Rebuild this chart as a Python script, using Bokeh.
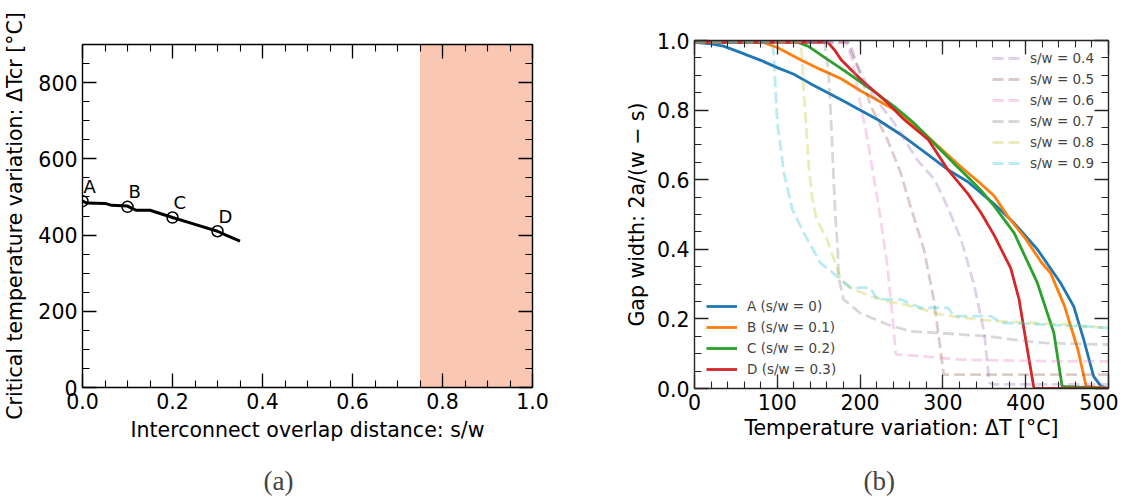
from bokeh.plotting import figure
from bokeh.models import (Range1d, LinearAxis, SingleIntervalTicker, BoxAnnotation,
                          Legend, LegendItem, Title, PrintfTickFormatter, CustomJSTickFormatter)
from bokeh.layouts import row
from bokeh.embed import file_html
from bokeh.resources import INLINE
from bokeh.core.properties import value

# ---------------- data: panel (a) ----------------
sw_curve = [0.0, 0.01, 0.05, 0.065, 0.1, 0.11, 0.12, 0.15, 0.2, 0.25, 0.3, 0.32, 0.35]
dT_curve = [489, 484, 483, 478, 476, 470, 465, 465, 446, 428, 410, 399, 384]
sw_points = [0.0, 0.1, 0.2, 0.3]
dT_points = [489, 474, 446, 410]
point_labels = ["A", "B", "C", "D"]
shade_from, shade_to = 0.75, 1.0

# ---------------- data: panel (b) ----------------
A_x = [0, 20, 35, 56, 80, 100, 120, 140, 161, 180, 197, 221, 249, 282, 306, 330, 362, 385, 414, 442, 458, 470, 482, 491, 500]
A_y = [0.995, 0.99, 0.984, 0.965, 0.943, 0.922, 0.903, 0.876, 0.85, 0.826, 0.804, 0.773, 0.73, 0.672, 0.629, 0.594, 0.53, 0.478, 0.4, 0.304, 0.236, 0.141, 0.035, 0.006, 0.0]
B_x = [0, 82, 100, 128, 152, 177, 201, 220, 241, 261, 280, 297, 318, 330, 345, 362, 378, 400, 419, 430, 447, 463, 473, 500]
B_y = [0.995, 0.995, 0.98, 0.945, 0.917, 0.89, 0.855, 0.83, 0.802, 0.764, 0.728, 0.69, 0.645, 0.62, 0.59, 0.553, 0.496, 0.43, 0.362, 0.332, 0.236, 0.112, 0.006, 0.0]
C_x = [0, 124, 137, 161, 180, 201, 220, 241, 265, 297, 318, 330, 345, 362, 386, 414, 434, 444, 500]
C_y = [0.995, 0.995, 0.984, 0.945, 0.915, 0.88, 0.848, 0.811, 0.763, 0.686, 0.636, 0.608, 0.572, 0.524, 0.447, 0.304, 0.16, 0.006, 0.0]
D_x = [0, 161, 170, 177, 201, 233, 253, 282, 306, 330, 346, 362, 382, 392, 402, 410, 500]
D_y = [0.995, 0.995, 0.97, 0.945, 0.888, 0.821, 0.773, 0.716, 0.629, 0.56, 0.505, 0.44, 0.345, 0.256, 0.112, 0.0, 0.0]

s04_x = [0, 185, 190, 213, 241, 269, 290, 305, 322, 338, 350, 356, 360, 500]
s04_y = [0.995, 0.995, 0.96, 0.85, 0.763, 0.657, 0.6, 0.525, 0.428, 0.294, 0.16, 0.017, 0.012, 0.012]
s05_x = [0, 186, 190, 197, 213, 233, 249, 260, 277, 289, 297, 301, 500]
s05_y = [0.995, 0.995, 0.975, 0.925, 0.811, 0.715, 0.62, 0.53, 0.4, 0.256, 0.112, 0.04, 0.04]
s06_x = [0, 183, 190, 197, 209, 217, 224, 233, 241, 243, 273, 321, 442, 500]
s06_y = [0.995, 0.995, 0.95, 0.86, 0.715, 0.6, 0.5, 0.351, 0.16, 0.098, 0.093, 0.083, 0.078, 0.078]
s07_x = [0, 157, 162, 166, 170, 173, 174, 180, 200, 233, 261, 293, 354, 382, 422, 500]
s07_y = [0.995, 0.995, 0.907, 0.715, 0.5, 0.4, 0.32, 0.256, 0.217, 0.184, 0.164, 0.16, 0.15, 0.141, 0.131, 0.126]
s08_x = [0, 128, 130, 132, 135, 138, 142, 147, 160, 177, 188, 212, 233, 261, 297, 321, 362, 443, 500]
s08_y = [0.995, 0.995, 0.95, 0.85, 0.75, 0.64, 0.55, 0.49, 0.428, 0.313, 0.29, 0.266, 0.251, 0.237, 0.213, 0.204, 0.194, 0.184, 0.174]
s09_x = [0, 94, 96, 97, 100, 108, 118, 132, 152, 172, 188, 212, 221, 249, 273, 306, 314, 358, 370, 467, 500]
s09_y = [0.995, 0.995, 0.95, 0.9, 0.764, 0.62, 0.515, 0.447, 0.361, 0.323, 0.29, 0.29, 0.256, 0.256, 0.232, 0.232, 0.208, 0.208, 0.189, 0.179, 0.174]

solid_labels = ["A (s/w = 0)", "B (s/w = 0.1)", "C (s/w = 0.2)", "D (s/w = 0.3)"]
dashed_labels = ["s/w = 0.4", "s/w = 0.5", "s/w = 0.6", "s/w = 0.7", "s/w = 0.8", "s/w = 0.9"]

solid_colors = ["#1f77b4", "#ff7f0e", "#2ca02c", "#d62728"]
dashed_colors = ["#9467bd", "#8c564b", "#e377c2", "#7f7f7f", "#bcbd22", "#17becf"]

FONT = "DejaVu Sans"
SERIF = "Liberation Serif"
FS = "20.5px"


def style_axis(ax, color):
    ax.major_tick_in = 14
    ax.major_tick_out = 0
    ax.minor_tick_in = 7
    ax.minor_tick_out = 0
    ax.axis_line_color = color
    ax.axis_line_width = 1.4
    ax.major_tick_line_color = color
    ax.minor_tick_line_color = color
    ax.major_tick_line_width = 1.3
    ax.minor_tick_line_width = 1.1
    ax.major_label_text_font = FONT
    ax.major_label_text_font_size = FS
    ax.major_label_text_color = "black"
    ax.major_label_standoff = 5
    ax.axis_label_text_font = FONT
    ax.axis_label_text_font_size = FS
    ax.axis_label_text_font_style = "normal"
    ax.axis_label_text_color = "black"


def make_fig(fw, fh, bl, br, bt, bb, xr, yr, xint, xminor, yint, yminor, xfmt, yfmt, color):
    p = figure(frame_width=fw, frame_height=fh, min_border_left=bl, min_border_right=br,
               min_border_top=bt, min_border_bottom=bb, title=None,
               x_range=Range1d(*xr), y_range=Range1d(*yr),
               output_backend="svg", toolbar_location=None)
    p.outline_line_color = None
    p.xgrid.visible = False
    p.ygrid.visible = False
    bottom_ax = p.below[0]
    left_ax = p.left[0]
    bottom_ax.ticker = SingleIntervalTicker(interval=xint, num_minor_ticks=xminor)
    left_ax.ticker = SingleIntervalTicker(interval=yint, num_minor_ticks=yminor)
    if xfmt:
        bottom_ax.formatter = PrintfTickFormatter(format=xfmt)
    if yfmt:
        left_ax.formatter = PrintfTickFormatter(format=yfmt)
    style_axis(bottom_ax, color)
    style_axis(left_ax, color)
    top = LinearAxis(ticker=SingleIntervalTicker(interval=xint, num_minor_ticks=xminor),
                     formatter=CustomJSTickFormatter(code="return ''"))
    right = LinearAxis(ticker=SingleIntervalTicker(interval=yint, num_minor_ticks=yminor),
                       formatter=CustomJSTickFormatter(code="return ''"))
    style_axis(top, color)
    style_axis(right, color)
    top.major_label_standoff = 0
    right.major_label_standoff = 0
    p.add_layout(top, "above")
    p.add_layout(right, "right")
    return p, bottom_ax, left_ax


# ---------------- panel (a) ----------------
p1, bx1, ly1 = make_fig(450, 343, 81, 40, 44, 103, (0, 1), (0, 900), 0.2, 4, 200, 4, "%.1f", None, "black")
bx1.axis_label = "Interconnect overlap distance: s/w"
ly1.axis_label = "Critical temperature variation: ΔTcr [°C]"
ly1.axis_label_standoff = 8
bx1.axis_label_standoff = 6

p1.add_layout(BoxAnnotation(left=shade_from, right=shade_to, fill_color="#f9c7b2",
                            fill_alpha=1.0, line_color=None, level="underlay"))
p1.line(sw_curve, dT_curve, line_color="black", line_width=3)
p1.scatter(sw_points, dT_points, marker="circle", size=11, fill_color=None,
           line_color="black", line_width=1.5)
p1.text(x=sw_points, y=dT_points, text=point_labels, x_offset=1, y_offset=-15,
        text_baseline="alphabetic", text_align="left",
        text_font=value(FONT), text_font_size="18px", text_color="black")
p1.add_layout(Title(text="(a)", align="left", offset=181, text_font=SERIF,
                    text_font_size="27px", text_font_style="normal", standoff=38), "below")

# ---------------- panel (b) ----------------
p2, bx2, ly2 = make_fig(414, 348, 122, 10, 44, 102, (0, 500), (0, 1), 100, 5, 0.2, 4, None, "%.1f", "#262626")
p2.margin = (-4, 0, 0, 0)
bx2.axis_label = "Temperature variation: ΔT [°C]"
ly2.axis_label = "Gap width: 2a/(w − s)"
ly2.axis_label_standoff = 5
bx2.axis_label_standoff = 3

solid_data = [(A_x, A_y), (B_x, B_y), (C_x, C_y), (D_x, D_y)]
dashed_data = [(s04_x, s04_y), (s05_x, s05_y), (s06_x, s06_y), (s07_x, s07_y),
               (s08_x, s08_y), (s09_x, s09_y)]

solid_items = []
for (xs, ys), c, lab in zip(solid_data, solid_colors, solid_labels):
    r = p2.line(xs, ys, line_color=c, line_width=2.8)
    solid_items.append(LegendItem(label=lab, renderers=[r]))

dashed_items = []
for (xs, ys), c, lab in zip(dashed_data, dashed_colors, dashed_labels):
    r = p2.line(xs, ys, line_color=c, line_width=2.8, line_alpha=0.3, line_dash="11 5")
    dashed_items.append(LegendItem(label=lab, renderers=[r]))

for items, loc, gw, st in [(solid_items, (12, 9), 31, 10), (dashed_items, (298, 215), 30, 8)]:
    lg = Legend(items=items, location=loc, padding=0, margin=0, spacing=1,
                glyph_width=gw, glyph_height=20, label_height=20, label_standoff=st,
                label_text_font=FONT, label_text_font_size="13.5px",
                border_line_color=None, background_fill_alpha=0)
    p2.add_layout(lg, "center")

p2.add_layout(Title(text="(b)", align="left", offset=169, text_font=SERIF,
                    text_font_size="27px", text_font_style="normal", standoff=42), "below")

layout = row(p1, p2)
open("out.html", "w").write(file_html(layout, INLINE))
